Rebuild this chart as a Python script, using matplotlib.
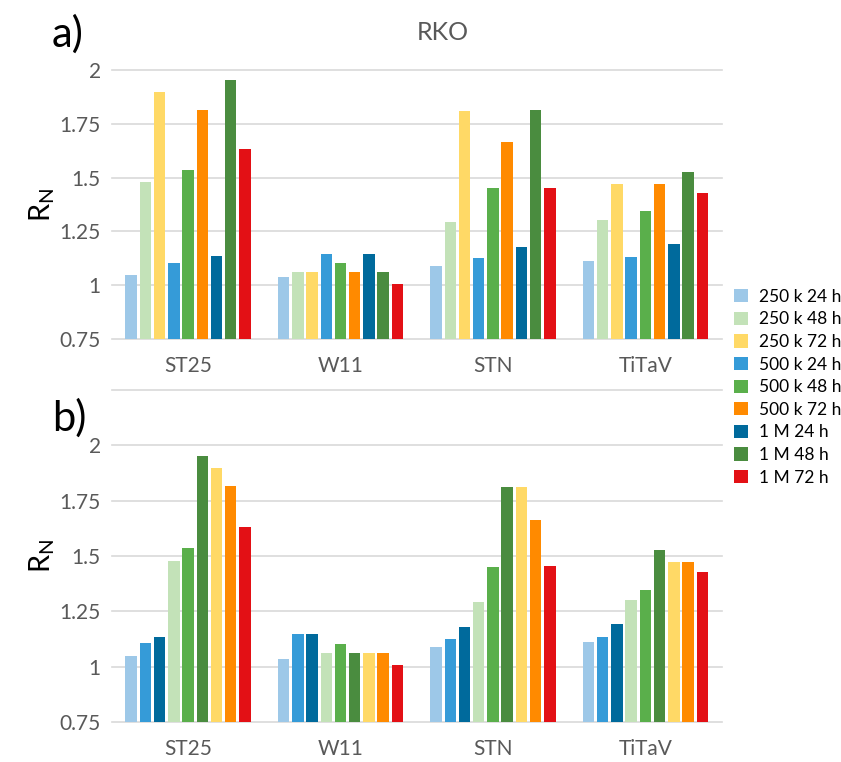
import matplotlib
matplotlib.use("Agg")
import matplotlib.pyplot as plt
import numpy as np

plt.rcParams['font.family'] = ['Lato', 'DejaVu Sans']

cell_lines = ["ST25", "W11", "STN", "TiTaV"]
series = ["250 k 24 h", "250 k 48 h", "250 k 72 h",
          "500 k 24 h", "500 k 48 h", "500 k 72 h",
          "1 M 24 h", "1 M 48 h", "1 M 72 h"]
colors = ["#9DC8E8", "#C3E2B8", "#FFD966",
          "#359BD8", "#5AAF4B", "#FF8A00",
          "#006A9C", "#4A8C3F", "#E31015"]

# R_N values, rows = series, columns = cell lines
values = np.array([
    [1.05, 1.037, 1.089, 1.111],
    [1.478, 1.063, 1.294, 1.303],
    [1.90, 1.063, 1.811, 1.473],
    [1.105, 1.146, 1.126, 1.132],
    [1.537, 1.103, 1.452, 1.346],
    [1.815, 1.063, 1.665, 1.473],
    [1.136, 1.146, 1.179, 1.191],
    [1.954, 1.063, 1.813, 1.526],
    [1.632, 1.006, 1.453, 1.430],
])

order_a = [0, 1, 2, 3, 4, 5, 6, 7, 8]
order_b = [0, 3, 6, 1, 4, 7, 2, 5, 8]

yticks = [0.75, 1, 1.25, 1.5, 1.75, 2]
ytick_labels = ["0.75", "1", "1.25", "1.5", "1.75", "2"]


def draw_panel(ax, order, top):
    x = np.arange(len(cell_lines))
    slot = 0.84 / len(order)
    for pos, idx in enumerate(order):
        offs = (pos - (len(order) - 1) / 2) * slot
        ax.bar(x + offs, values[idx] - 0.75, bottom=0.75, width=slot * 0.8,
               color=colors[idx], label=series[idx], zorder=3)
    ax.set_xlim(-0.5, len(cell_lines) - 0.5)
    ax.set_ylim(0.75, top)
    ax.set_yticks(yticks)
    ax.set_yticklabels(ytick_labels)
    for g in np.arange(0.75, top + 0.001, 0.25):
        ax.axhline(g, color="#D9D9D9", lw=1.2, zorder=1, clip_on=False)
    ax.set_xticks(x)
    ax.set_xticklabels(cell_lines)
    for s in ax.spines.values():
        s.set_visible(False)
    ax.tick_params(axis="both", length=0, labelsize=15, colors="#595959")
    ax.tick_params(axis="x", pad=12)
    ax.tick_params(axis="y", pad=8)
    ax.set_ylabel(r"R$_\mathregular{N}$", fontsize=21, color="black", labelpad=2)


fig = plt.figure(figsize=(8.41, 7.62), dpi=100)
ax1 = fig.add_axes([0.133, 0.555, 0.725, 0.353])
ax2 = fig.add_axes([0.133, 0.0525, 0.725, 0.4355])

draw_panel(ax1, order_a, 2.0)
draw_panel(ax2, order_b, 2.25)

fig.text(0.527, 0.958, "RKO", fontsize=18, color="#595959",
         ha="center", va="center")
fig.text(0.08, 0.955, "a)", fontsize=30, ha="center", va="center")
fig.text(0.083, 0.452, "b)", fontsize=30, ha="center", va="center")

handles, labels = ax1.get_legend_handles_labels()
fig.legend(handles, labels, loc="upper left", bbox_to_anchor=(0.865, 0.63),
           frameon=False, fontsize=12.5, handlelength=0.8, handleheight=0.8,
           handletextpad=0.6, labelspacing=0.38, borderaxespad=0)

fig.savefig("out.png", dpi=100)
